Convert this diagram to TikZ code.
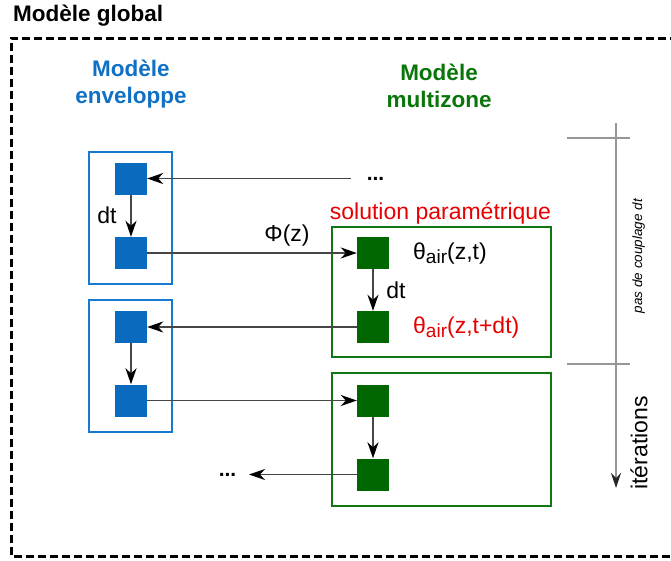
\documentclass[tikz,border=0pt]{standalone}
\usepackage{fontspec}
\setmainfont{Liberation Sans}
\usetikzlibrary{arrows.meta}
\definecolor{bluefill}{RGB}{10,106,190}
\definecolor{blueline}{RGB}{22,122,208}
\definecolor{bluetext}{RGB}{16,112,196}
\definecolor{greenfill}{RGB}{0,102,0}
\definecolor{greenline}{RGB}{16,120,16}
\definecolor{greentext}{RGB}{10,118,10}
\definecolor{redtext}{RGB}{230,0,0}
\definecolor{conn}{RGB}{70,70,70}
\definecolor{axisgray}{RGB}{150,150,150}
\begin{document}
\begin{tikzpicture}[x=1pt,y=-1pt,
  bsq/.style={fill=bluefill, minimum size=32pt, inner sep=0pt},
  gsq/.style={fill=greenfill, minimum size=32pt, inner sep=0pt},
  bbox/.style={draw=blueline, line width=2.2pt, minimum width=83pt, minimum height=132pt, inner sep=0pt},
  gbox/.style={draw=greenline, line width=2.2pt, minimum width=219pt, inner sep=0pt},
  link/.style={draw=conn, line width=1.8pt, -{Stealth[length=16pt,width=11pt,inset=5pt,color=black]}},
  lbl/.style={font=\fontsize{23}{27}\selectfont, inner sep=0pt},
  head/.style={font=\bfseries\fontsize{22.5}{27}\selectfont, inner sep=0pt, anchor=base},
  frame/.style={line width=3pt, dash pattern=on 8pt off 4pt},
  axis/.style={draw=axisgray, line width=1.3pt},
]
\useasboundingbox (0,0) rectangle (671,560);

% frame and title
\draw[frame] (690,38) -| (11,556) -- (690,556);
\node[head, anchor=base west] (title) at (13,21) {Modèle global};

% headings
\node[head, text=bluetext] (bh1) at (131,76) {Modèle};
\node[head, text=bluetext] (bh2) at (131,103) {enveloppe};
\node[head, text=greentext] (gh1) at (439,80) {Modèle};
\node[head, text=greentext] (gh2) at (439,107) {multizone};

% outer boxes
\node[bbox] (bbox1) at (130.5,218) {};
\node[bbox] (bbox2) at (130.5,366) {};
\node[gbox, minimum height=130pt] (gbox1) at (441.5,292) {};
\node[gbox, minimum height=133pt] (gbox2) at (441.5,439.5) {};

% squares
\node[bsq] (b1) at (131,178.5) {};
\node[bsq] (b2) at (131,253) {};
\node[bsq] (b3) at (131,327) {};
\node[bsq] (b4) at (131,400.5) {};
\node[gsq] (g1) at (373,253) {};
\node[gsq] (g2) at (373,327) {};
\node[gsq] (g3) at (373,400.5) {};
\node[gsq] (g4) at (373,474.5) {};

% free ends
\coordinate (inR) at (351,178.5);
\coordinate (outL) at (249,474.5);
\node[lbl, anchor=base, font=\bfseries\fontsize{21}{25}\selectfont] (dotsR) at (375.5,180) {...};
\node[lbl, anchor=base, font=\bfseries\fontsize{21}{25}\selectfont] (dotsL) at (227.5,476) {...};

% connectors
\draw[link] (inR) -- (b1.east);
\draw[link] (b1) -- (b2);
\draw[link] (b2) -- (g1.west);
\draw[link] (g1) -- (g2);
\draw[link] (g2) -- (b3.east);
\draw[link] (b3) -- (b4);
\draw[link] (b4) -- (g3.west);
\draw[link] (g3) -- (g4);
\draw[link] (g4.west) -- (outL);

% labels
\node[lbl] (dtb) at (107,215) {dt};
\node[lbl] (phi) at (287,236) {Φ(z)};
\node[lbl, anchor=base, text=redtext] (sol) at (440.5,219) {solution paramétrique};
\node[lbl, anchor=west] (th1) at (413,254) {θ\raisebox{-4pt}{\fontsize{19}{20}\selectfont air}(z,t)};
\node[lbl, anchor=west, text=redtext] (th2) at (413,328) {θ\raisebox{-4pt}{\fontsize{19}{20}\selectfont air}(z,t+dt)};
\node[lbl] (dtg) at (396,290) {dt};

% right axis
\coordinate (axtop) at (616,123);
\coordinate (axbot) at (616,488);
\coordinate (t1a) at (567,138);
\coordinate (t1b) at (630,138);
\coordinate (t2a) at (567,364);
\coordinate (t2b) at (630,364);
\draw[axis, -{Stealth[length=15pt,width=10pt,inset=5pt,color=black!85]}] (axtop) -- (axbot);
\draw[axis] (t1a) -- (t1b);
\draw[axis] (t2a) -- (t2b);
\node[inner sep=0pt, rotate=90, font=\itshape\fontsize{13.5}{16}\selectfont] (pas) at (638.5,256) {pas de couplage dt};
\node[lbl, rotate=90] (iter) at (639,443) {itérations};
\end{tikzpicture}
\end{document}
